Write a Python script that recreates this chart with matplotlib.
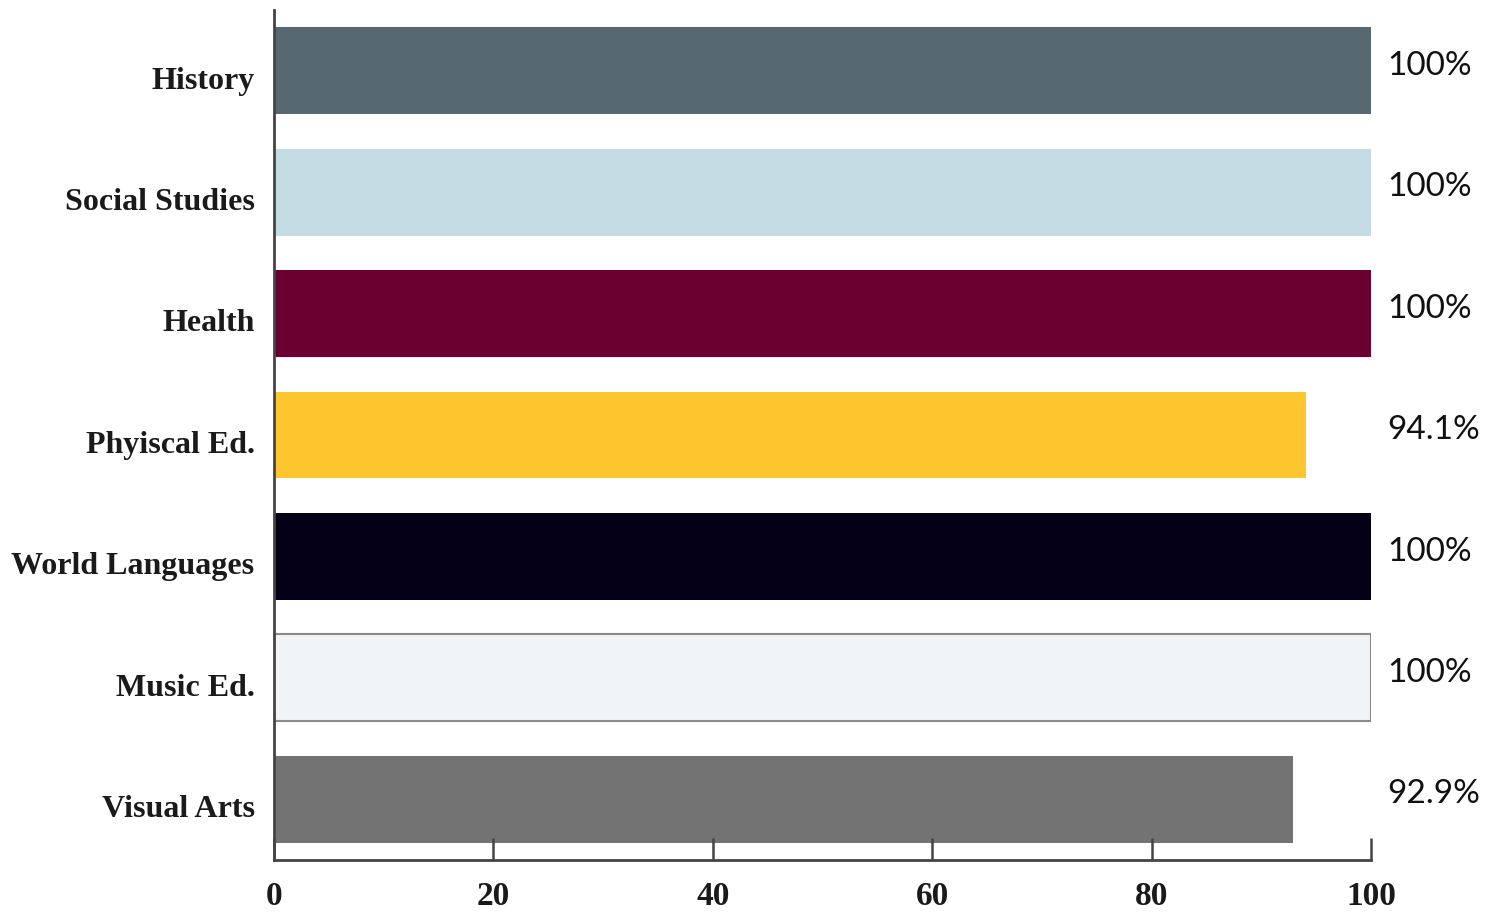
import matplotlib.pyplot as plt
import matplotlib.transforms as mtransforms
import numpy as np

# data
subjects = ['History', 'Social Studies', 'Health', 'Phyiscal Ed.',
            'World Languages', 'Music Ed.', 'Visual Arts']
percent = [100, 100, 100, 94.1, 100, 100, 92.9]
value_text = ['100%', '100%', '100%', '94.1%', '100%', '100%', '92.9%']
bar_colors = ['#566970', '#c3dce3', '#6a0030', '#fdc52e',
              '#050018', '#f1f4f6', '#737373']
x_ticks = [0, 20, 40, 60, 80, 100]

fig = plt.figure(figsize=(14.94, 9.17), dpi=100)
ax = fig.add_axes([0.1834, 0.0622, 0.7343, 0.9269])

ypos = np.arange(len(subjects))
bars = ax.barh(ypos, percent, height=0.715, color=bar_colors)
# music ed bar is near-white so it gets an outline
bars[5].set_edgecolor('#8a8a8a')
bars[5].set_linewidth(1.5)

for y, v, t in zip(ypos, percent, value_text):
    ax.text(101.5, y - 0.04, t, ha='left', va='center',
            fontsize=24, family='Lato', color='#111111')

ax.set_ylim(len(subjects) - 0.5, -0.5)
ax.set_xlim(0, 100)
ax.set_yticks(ypos)
ax.set_yticklabels(subjects, family='Liberation Serif', fontsize=23,
                   fontweight='bold', color='#1a1a1a')
ax.set_xticks(x_ticks)
ax.set_xticklabels([str(t) for t in x_ticks], family='Liberation Serif',
                   fontsize=24, fontweight='bold', color='#1a1a1a')

ax.tick_params(axis='y', length=0, pad=14)
ax.tick_params(axis='x', direction='in', length=16, width=1.8,
               color='#444444', pad=15)

# labels in the reference sit a little below the bar middles
shift = mtransforms.ScaledTranslation(0, -5 / 72, fig.dpi_scale_trans)
for lab in ax.get_yticklabels():
    lab.set_transform(lab.get_transform() + shift)

for side in ['top', 'right']:
    ax.spines[side].set_visible(False)
for side in ['left', 'bottom']:
    ax.spines[side].set_color('#444444')
    ax.spines[side].set_linewidth(2)

fig.savefig('out.png', dpi=100)
